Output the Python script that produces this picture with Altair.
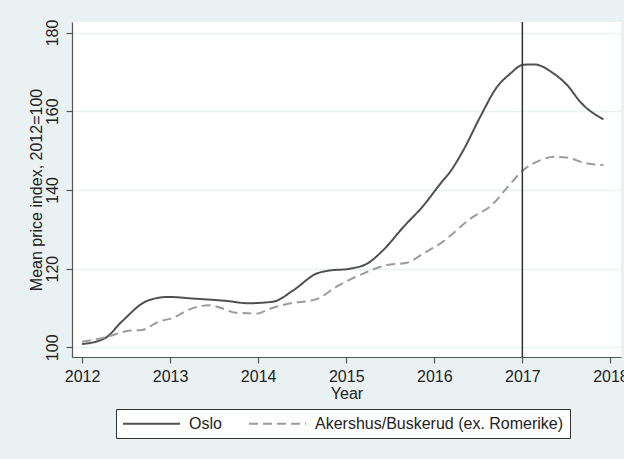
import altair as alt
import pandas as pd

# Mean price index (2012=100), Oslo
oslo_year = [2012.00, 2012.26, 2012.45, 2012.74, 2012.98, 2013.25, 2013.63, 2013.89,
             2014.17, 2014.40, 2014.67, 2014.78, 2015.05, 2015.24, 2015.42, 2015.65,
             2015.88, 2016.07, 2016.18, 2016.33, 2016.52, 2016.71, 2016.86, 2017.01,
             2017.13, 2017.36, 2017.51, 2017.66, 2017.92]
oslo_index = [100.8, 102.3, 106.5, 111.8, 112.8, 112.4, 111.8, 111.2,
              111.6, 114.5, 118.8, 119.4, 120.0, 121.3, 124.7, 130.6,
              136.1, 141.6, 144.6, 150.1, 158.5, 166.1, 169.5, 171.8,
              171.9, 169.5, 166.6, 162.3, 157.9]

# Mean price index (2012=100), Akershus/Buskerud excluding Romerike
akb_year = [2012.00, 2012.26, 2012.53, 2012.68, 2012.87, 2013.02, 2013.25, 2013.44,
            2013.59, 2013.74, 2014.00, 2014.10, 2014.33, 2014.67, 2014.89, 2015.20,
            2015.46, 2015.69, 2015.88, 2016.07, 2016.41, 2016.67, 2016.82, 2017.01,
            2017.20, 2017.36, 2017.51, 2017.70, 2017.92]
akb_index = [101.4, 102.5, 104.2, 104.4, 106.5, 107.4, 109.9, 110.7,
             109.9, 108.8, 108.6, 109.5, 111.0, 112.3, 115.4, 118.8,
             120.9, 121.5, 123.9, 126.4, 132.7, 136.5, 140.4, 145.0,
             147.5, 148.4, 148.2, 146.9, 146.3]

series_names = ["Oslo", "Akershus/Buskerud (ex. Romerike)"]
marker_year = [2017]
y_ticks = [100, 120, 140, 160, 180]
x_ticks = [2012, 2013, 2014, 2015, 2016, 2017, 2018]

df = pd.concat([
    pd.DataFrame({"year": oslo_year, "index": oslo_index, "series": series_names[0]}),
    pd.DataFrame({"year": akb_year, "index": akb_index, "series": series_names[1]}),
])

FONT = "Liberation Sans"
FS = 16
BG = "#EAF1F3"

x_scale = alt.Scale(domain=[2011.886, 2018.12], nice=False, zero=False)
y_scale = alt.Scale(domain=[97.53, 182.67], nice=False, zero=False)

# trailing no-break spaces widen the legend frame on the right
label_expr = "datum.label == 'Oslo' ? datum.label : datum.label + '\u00a0\u00a0\u00a0'"
# long horizontal key line while the entry keeps a small symbol size
key_path = "M-3.8,0H3.8"

legend = alt.Legend(title=None, labelExpr=label_expr, labelLimit=600)

lines = alt.Chart(df).mark_line(strokeWidth=2, interpolate="monotone").encode(
    x=alt.X("year:Q", scale=x_scale,
            axis=alt.Axis(values=x_ticks, format="d", title="Year", grid=False,
                          tickSize=6, labelPadding=5, titlePadding=1)),
    y=alt.Y("index:Q", scale=y_scale,
            axis=alt.Axis(values=y_ticks, title="Mean price index, 2012=100",
                          grid=True, tickSize=6, labelAngle=270,
                          labelAlign="center", labelBaseline="bottom",
                          labelPadding=6, titlePadding=0)),
    color=alt.Color("series:N",
                    scale=alt.Scale(domain=series_names, range=["#505050", "#9b9b9b"]),
                    legend=legend),
    strokeDash=alt.StrokeDash("series:N",
                              scale=alt.Scale(domain=series_names, range=[[1, 0], [9, 5]]),
                              legend=legend),
)

rule = alt.Chart(pd.DataFrame({"year": marker_year})).mark_rule(
    color="#333333", strokeWidth=1.5
).encode(x=alt.X("year:Q", scale=x_scale))

chart = alt.layer(lines, rule).properties(
    width=549,
    height=335,
    autosize=alt.AutoSizeParams(type="none"),
    padding={"left": 72, "top": 22, "right": 3, "bottom": 102},
    background=BG,
).configure_view(
    fill="white", stroke=None
).configure_axis(
    labelFont=FONT, titleFont=FONT, labelFontSize=FS, titleFontSize=FS,
    labelColor="#222222", titleColor="#222222", titleFontWeight="normal",
    domainColor="#555555", tickColor="#555555", domainWidth=1.2, tickWidth=1.2,
    gridColor=BG, gridWidth=1.5,
).configure_legend(
    orient="none", legendX=44, legendY=387, direction="horizontal",
    columns=2, labelFont=FONT, labelFontSize=FS, labelColor="#222222",
    symbolType=key_path, symbolSize=225, symbolStrokeWidth=2,
    symbolOffset=21, labelOffset=29, columnPadding=23, padding=6,
    fillColor="white", strokeColor="#333333", strokeWidth=1,
)

chart.save("out.html", embed_options={"renderer": "svg", "actions": False})
